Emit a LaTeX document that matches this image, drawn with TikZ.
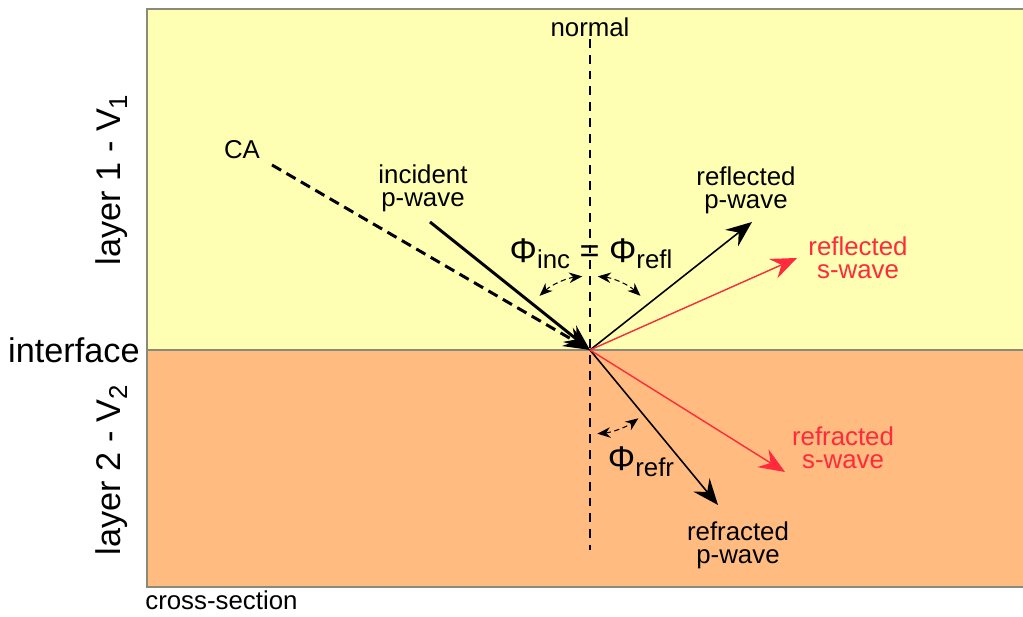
\documentclass[tikz,border=0pt]{standalone}
\usepackage{fontspec}
\setmainfont{Liberation Sans}
\usepackage{xcolor}
\usepackage{tikz}
\usetikzlibrary{arrows.meta,positioning}

\definecolor{layerone}{HTML}{FFFFB3}
\definecolor{layertwo}{HTML}{FFBB80}
\definecolor{swave}{HTML}{FF2A3C}
\definecolor{frame}{HTML}{8A8A78}
\newcommand\lowtxt[1]{\raisebox{-0.35ex}{\fontsize{14.7}{14.7}\selectfont #1}}

\begin{document}
\begin{tikzpicture}[
    x=0.02cm, y=0.02cm,
    lbl/.style={font=\fontsize{14.7}{13.2}\selectfont, align=center, inner sep=0pt},
    big/.style={font=\fontsize{19.5}{20}\selectfont, inner sep=0pt},
    arr/.style={-{Stealth[length=5.2mm, width=4.2mm, inset=1.8mm]}, line width=0.9pt},
    sarr/.style={arr, draw=swave, line width=0.8pt},
    angarr/.style={{Stealth[length=2.6mm, width=2.1mm]}-{Stealth[length=2.6mm, width=2.1mm]}, densely dashed, line width=0.6pt}
]
\useasboundingbox (0,0) rectangle (1023,617);
\fill[white] (0,0) rectangle (1023,617);

% layers
\fill[layerone] (147,267) rectangle (1023,608);
\fill[layertwo] (147,30) rectangle (1023,267);
\draw[frame, line width=0.8pt] (1023,608) -- (147,608) -- (147,30) -- (1023,30);
\draw[frame, line width=0.8pt] (147,267) -- (1023,267);

% side labels
\node[big, rotate=90] (l1) at (112,437) {layer 1 - V\lowtxt{1}};
\node[big, anchor=east] (iface) at (140,267) {interface};
\node[big, rotate=90] (l2) at (112,147) {layer 2 - V\lowtxt{2}};
\node[lbl, anchor=base west] (cs) at (145,7) {cross-section};

% normal
\coordinate (P) at (590,267);
\node[lbl] (nrm) at (590,590) {normal};
\coordinate (ntop) at (590,578);
\coordinate (nbot) at (590,67);
\draw[dash pattern=on 5pt off 4pt, line width=0.8pt] (ntop) -- (nbot);

% incident
\coordinate (castart) at (272,452);
\coordinate (incstart) at (430,395);
\node[lbl] (ca) at (242,467) {CA};
\node[lbl] (inc) at (423,429) {incident\\p-wave};
\draw[arr, dash pattern=on 6pt off 3.5pt, line width=1.7pt] (castart) -- (P);
\draw[arr, line width=1.7pt] (incstart) -- (P);

% reflected
\coordinate (reflp) at (752,395);
\coordinate (refls) at (797,359);
\node[lbl] (reflpl) at (746,427) {reflected\\p-wave};
\node[lbl, text=swave] (reflsl) at (858,359) {reflected\\s-wave};
\draw[arr] (P) -- (reflp);
\draw[sarr] (P) -- (refls);

% refracted
\coordinate (refrp) at (718,112);
\coordinate (refrs) at (785,145);
\node[lbl] (refrpl) at (738,72) {refracted\\p-wave};
\node[lbl, text=swave] (refrsl) at (843,169) {refracted\\s-wave};
\draw[arr] (P) -- (refrp);
\draw[sarr] (P) -- (refrs);

% angles
\node[big] (phi) at (591,363) {Φ\lowtxt{inc} = Φ\lowtxt{refl}};
\node[big] (phirefr) at (641,155) {Φ\lowtxt{refr}};
\draw[angarr] (P) ++(133:74) arc[start angle=133, end angle=96, radius=1.48cm];
\draw[angarr] (P) ++(84:74) arc[start angle=84, end angle=47, radius=1.48cm];
\draw[angarr] (P) ++(-85:84) arc[start angle=-85, end angle=-54, radius=1.64cm];
\end{tikzpicture}
\end{document}
